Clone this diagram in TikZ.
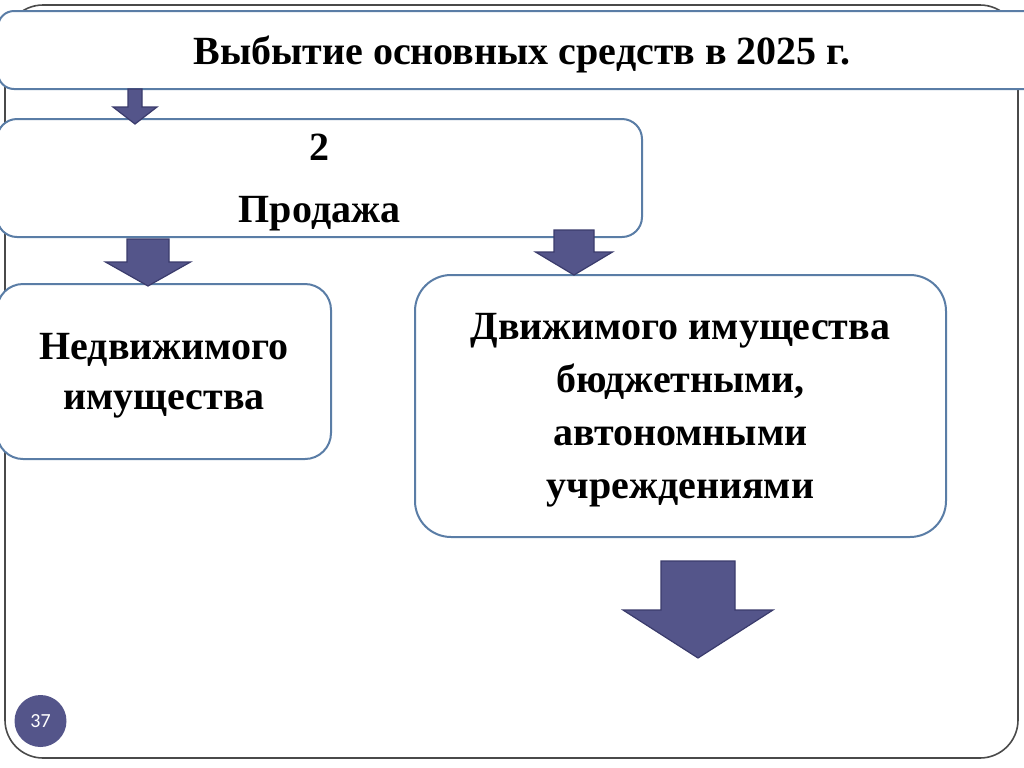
\documentclass[tikz,border=0pt]{standalone}
\usepackage{fontspec}
\setmainfont{Liberation Serif}
\newfontfamily\numfont{Carlito}
\usepackage{tikz}
\usetikzlibrary{positioning,calc}

\definecolor{arrowfill}{HTML}{54558A}
\definecolor{arrowline}{HTML}{3A3B6C}
\definecolor{boxline}{HTML}{5A7DA6}
\definecolor{frameline}{HTML}{4A4A4A}

\begin{document}
\begin{tikzpicture}[
    x=0.5pt, y=-0.5pt,
    % --- Node styles ---
    box/.style={draw=boxline, line width=1pt, fill=white, align=center,
                inner sep=0pt, text depth=0pt, font=\bfseries},
    pagenum/.style={circle, fill=arrowfill, minimum size=26pt, inner sep=0pt,
                    text=white, font=\numfont\fontsize{10pt}{12pt}\selectfont},
    % --- Shape styles ---
    frame/.style={draw=frameline, line width=0.8pt, rounded corners=19pt},
    blockarrow/.style={fill=arrowfill, draw=arrowline, line width=0.6pt},
    pics/downarrow/.style n args={4}{code={
        \draw[blockarrow] (-#1,0) -- (#1,0) -- (#1,#3) -- (#2,#3) -- (0,#4)
            -- (-#2,#3) -- (-#1,#3) -- cycle;
    }},
]
\useasboundingbox (0,0) rectangle (1024,767);
\clip (0,0) rectangle (1024,767);

% === Slide frame ===
\draw[frame] (5,5) rectangle (1018,758);

% === Boxes ===
\node[box, rounded corners=8pt, minimum width=524pt, minimum height=39pt,
      font=\bfseries\fontsize{20pt}{24pt}\selectfont] (title) at (522,50)
      {Выбытие основных средств в 2025 г.};
\node[box, rounded corners=10pt, minimum width=322.5pt, minimum height=59pt,
      font=\bfseries\fontsize{20pt}{31pt}\selectfont] (sale) at (319.5,178)
      {2\\Продажа};
\node[box, rounded corners=13pt, minimum width=167pt, minimum height=87.5pt,
      font=\bfseries\fontsize{20pt}{25pt}\selectfont] (realty) at (164,371.5)
      {Недвижимого\\имущества};
\node[box, rounded corners=18pt, minimum width=265.5pt, minimum height=131pt,
      font=\bfseries\fontsize{20pt}{26.5pt}\selectfont] (movable) at (680.5,406)
      {Движимого имущества\\бюджетными,\\автономными\\учреждениями};

% === Arrows ===
\pic at (135,89) {downarrow={7}{22}{18}{35}};
\pic at (148,239) {downarrow={21}{42.5}{23}{47}};
\pic at (574,230) {downarrow={20}{38.5}{22}{45}};
\pic at (698,561) {downarrow={37}{75}{49}{97}};

% --- Page number ---
\node[pagenum] (pnum) at (40.5,721) {37};

\end{tikzpicture}
\end{document}
